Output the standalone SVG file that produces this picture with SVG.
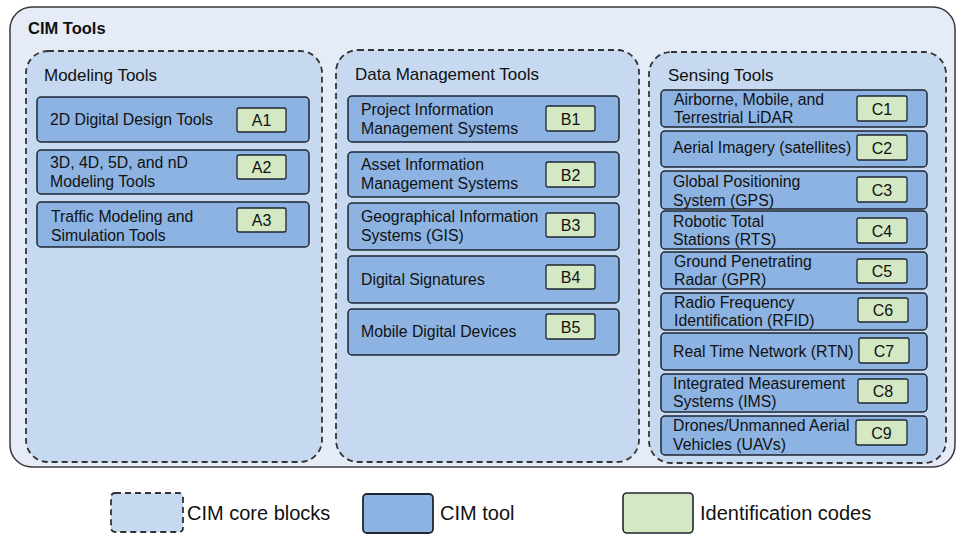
<svg xmlns="http://www.w3.org/2000/svg" width="959" height="534" viewBox="0 0 959 534">
<style>
text{font-family:"Liberation Sans",Arial,sans-serif;fill:#111}
.outer{fill:#e5ecf8;stroke:#3a3a3a;stroke-width:1.5}
.core{fill:#c6d9f0;stroke:#333;stroke-width:1.8;stroke-dasharray:6 4}
.tool{fill:#8db3e2;stroke:#1e2630;stroke-width:1.5}
.code{fill:#d4e8c4;stroke:#1e2630;stroke-width:1.3}
.t{font-size:15.8px}
.h{font-size:17px}
.c{font-size:16px;text-anchor:middle}
.lg{font-size:20px}
</style>
<g id="cim-tools">
<rect class="outer" x="10" y="7" width="945" height="460" rx="22"/>
<text x="28" y="34" style="font-size:16.5px;font-weight:bold">CIM Tools</text>
</g>
<g id="modeling-tools">
<rect class="core" x="26" y="51" width="296" height="411" rx="22"/>
<text class="h" x="44" y="81">Modeling Tools</text>
</g>
<g id="data-management-tools">
<rect class="core" x="336" y="50" width="303" height="412" rx="22"/>
<text class="h" x="355" y="80">Data Management Tools</text>
</g>
<g id="sensing-tools">
<rect class="core" x="649" y="52" width="297" height="411" rx="22"/>
<text class="h" x="668" y="81">Sensing Tools</text>
</g>
<g id="A1"><rect class="tool" x="37" y="97" width="272" height="45" rx="4"/><text class="t" x="50" y="125">2D Digital Design Tools</text><rect class="code" x="237" y="108" width="49" height="24" rx="2"/><text class="c" x="261.5" y="126">A1</text></g>
<g id="A2"><rect class="tool" x="37" y="150" width="272" height="44" rx="4"/><text class="t" x="50" y="168">3D, 4D, 5D, and nD</text><text class="t" x="50" y="187">Modeling Tools</text><rect class="code" x="237" y="155" width="49" height="24" rx="2"/><text class="c" x="261.5" y="173">A2</text></g>
<g id="A3"><rect class="tool" x="37" y="202" width="272" height="45" rx="4"/><text class="t" x="51" y="222">Traffic Modeling and</text><text class="t" x="51" y="241">Simulation Tools</text><rect class="code" x="237" y="208" width="49" height="24" rx="2"/><text class="c" x="261.5" y="226">A3</text></g>
<g id="B1"><rect class="tool" x="348" y="96" width="271" height="46" rx="4"/><text class="t" x="361" y="115">Project Information</text><text class="t" x="361" y="134">Management Systems</text><rect class="code" x="546" y="106" width="49" height="25" rx="2"/><text class="c" x="570.5" y="124.5">B1</text></g>
<g id="B2"><rect class="tool" x="348" y="152" width="271" height="45" rx="4"/><text class="t" x="361" y="170">Asset Information</text><text class="t" x="361" y="189">Management Systems</text><rect class="code" x="546" y="162" width="49" height="25" rx="2"/><text class="c" x="570.5" y="180.5">B2</text></g>
<g id="B3"><rect class="tool" x="348" y="203" width="271" height="47" rx="4"/><text class="t" x="361" y="222">Geographical Information</text><text class="t" x="361" y="241">Systems (GIS)</text><rect class="code" x="546" y="213" width="49" height="24" rx="2"/><text class="c" x="570.5" y="231">B3</text></g>
<g id="B4"><rect class="tool" x="348" y="256" width="271" height="47" rx="4"/><text class="t" x="361" y="285">Digital Signatures</text><rect class="code" x="546" y="265" width="49" height="24" rx="2"/><text class="c" x="570.5" y="283">B4</text></g>
<g id="B5"><rect class="tool" x="348" y="309" width="271" height="46" rx="4"/><text class="t" x="361" y="337">Mobile Digital Devices</text><rect class="code" x="546" y="314" width="49" height="25" rx="2"/><text class="c" x="570.5" y="332.5">B5</text></g>
<g id="C1"><rect class="tool" x="661" y="90" width="266" height="37" rx="4"/><text class="t" x="674" y="105">Airborne, Mobile, and</text><text class="t" x="674" y="123">Terrestrial LiDAR</text><rect class="code" x="857" y="96" width="50" height="25" rx="2"/><text class="c" x="882" y="114.5">C1</text></g>
<g id="C2"><rect class="tool" x="661" y="131" width="266" height="36" rx="4"/><text class="t" x="673" y="153">Aerial Imagery (satellites)</text><rect class="code" x="857" y="135" width="50" height="25" rx="2"/><text class="c" x="882" y="153.5">C2</text></g>
<g id="C3"><rect class="tool" x="661" y="171" width="266" height="38" rx="4"/><text class="t" x="673" y="187">Global Positioning</text><text class="t" x="673" y="206">System (GPS)</text><rect class="code" x="857" y="177" width="50" height="25" rx="2"/><text class="c" x="882" y="195.5">C3</text></g>
<g id="C4"><rect class="tool" x="661" y="211" width="266" height="38" rx="4"/><text class="t" x="673" y="227">Robotic Total</text><text class="t" x="673" y="245">Stations (RTS)</text><rect class="code" x="857" y="218" width="50" height="25" rx="2"/><text class="c" x="882" y="236.5">C4</text></g>
<g id="C5"><rect class="tool" x="661" y="252" width="266" height="37" rx="4"/><text class="t" x="674" y="267">Ground Penetrating</text><text class="t" x="674" y="285">Radar (GPR)</text><rect class="code" x="857" y="259" width="50" height="24" rx="2"/><text class="c" x="882" y="277">C5</text></g>
<g id="C6"><rect class="tool" x="661" y="293" width="266" height="37" rx="4"/><text class="t" x="674" y="308">Radio Frequency</text><text class="t" x="674" y="326">Identification (RFID)</text><rect class="code" x="858" y="298" width="50" height="24" rx="2"/><text class="c" x="883" y="316">C6</text></g>
<g id="C7"><rect class="tool" x="661" y="333" width="266" height="37" rx="4"/><text class="t" x="673" y="357">Real Time Network (RTN)</text><rect class="code" x="859" y="338" width="50" height="25" rx="2"/><text class="c" x="884" y="356.5">C7</text></g>
<g id="C8"><rect class="tool" x="661" y="374" width="266" height="38" rx="4"/><text class="t" x="673" y="389">Integrated Measurement</text><text class="t" x="673" y="407">Systems (IMS)</text><rect class="code" x="858" y="379" width="50" height="24" rx="2"/><text class="c" x="883" y="397">C8</text></g>
<g id="C9"><rect class="tool" x="661" y="416" width="266" height="39" rx="4"/><text class="t" x="673" y="431">Drones/Unmanned Aerial</text><text class="t" x="673" y="450">Vehicles (UAVs)</text><rect class="code" x="856" y="420" width="51" height="25" rx="2"/><text class="c" x="881.5" y="438.5">C9</text></g>
<g id="connectors"></g>
<g id="legend">
<rect class="core" x="111" y="493" width="72" height="39" rx="4"/>
<text class="lg" x="187" y="520">CIM core blocks</text>
<rect class="tool" x="363" y="494" width="70" height="39" rx="4" style="stroke-width:1.8"/>
<text class="lg" x="440" y="520">CIM tool</text>
<rect class="code" x="623" y="493" width="70" height="40" rx="4" style="stroke-width:1.6"/>
<text class="lg" x="700" y="520">Identification codes</text>
</g>
</svg>
